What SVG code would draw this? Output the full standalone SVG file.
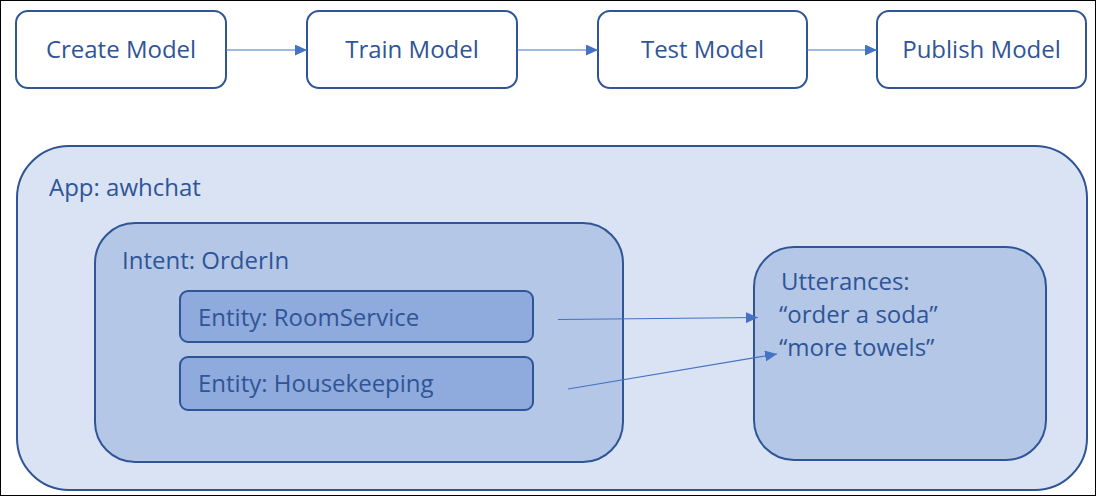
<svg xmlns="http://www.w3.org/2000/svg" width="1096" height="496" viewBox="0 0 1096 496">
<style>
.t{font-family:"Open Sans","Noto Sans",sans-serif;font-size:24px;fill:#2F5597}
.c{text-anchor:middle}
.box{fill:#FFFFFF;stroke:#2F5597;stroke-width:2}
.app{fill:#DAE3F3;stroke:#2F5597;stroke-width:2}
.mid{fill:#B4C7E7;stroke:#2F5597;stroke-width:2}
.ent{fill:#8FAADC;stroke:#2F5597;stroke-width:2}
.con{fill:none;stroke:#4472C4;stroke-width:1.2}
</style>
<defs>
<marker id="ah" markerUnits="userSpaceOnUse" markerWidth="12" markerHeight="11" refX="12" refY="5.5" orient="auto">
<path d="M0,0 L12,5.5 L0,11 z" fill="#4472C4"/>
</marker>
</defs>
<rect x="0.5" y="0.5" width="1095" height="495" fill="#FFFFFF" stroke="#000000" stroke-width="1"/>
<g id="create-model"><rect class="box" x="16" y="11" width="210" height="77" rx="12"/><text class="t c" x="121" y="58">Create Model</text></g>
<g id="train-model"><rect class="box" x="307" y="11" width="210" height="77" rx="12"/><text class="t c" x="412" y="58">Train Model</text></g>
<g id="test-model"><rect class="box" x="598" y="11" width="209" height="77" rx="12"/><text class="t c" x="702.5" y="58">Test Model</text></g>
<g id="publish-model"><rect class="box" x="877" y="11" width="209" height="77" rx="12"/><text class="t c" x="981.5" y="58">Publish Model</text></g>
<g id="app"><rect class="app" x="17" y="146" width="1070" height="344" rx="52"/><text class="t" x="49" y="196">App: awhchat</text></g>
<g id="intent"><rect class="mid" x="95" y="223" width="528" height="239" rx="40"/><text class="t" x="122" y="269">Intent: OrderIn</text></g>
<g id="entity-roomservice"><rect class="ent" x="180" y="291" width="353" height="51" rx="8"/><text class="t" x="198" y="326">Entity: RoomService</text></g>
<g id="entity-housekeeping"><rect class="ent" x="180" y="357" width="353" height="53" rx="8"/><text class="t" x="198" y="392">Entity: Housekeeping</text></g>
<g id="utterances"><rect class="mid" x="754" y="247" width="292" height="213" rx="40"/><text class="t" x="781" y="290">Utterances:</text><text class="t" x="779" y="323">“order a soda”</text><text class="t" x="779" y="356">“more towels”</text></g>
<g id="connectors">
<line class="con" x1="226" y1="50" x2="307" y2="50" marker-end="url(#ah)"/>
<line class="con" x1="517" y1="50" x2="598" y2="50" marker-end="url(#ah)"/>
<line class="con" x1="807" y1="50" x2="877" y2="50" marker-end="url(#ah)"/>
<line class="con" x1="558" y1="319.5" x2="758" y2="317.5" marker-end="url(#ah)"/>
<line class="con" x1="568" y1="389" x2="777" y2="354" marker-end="url(#ah)"/>
</g>
</svg>
